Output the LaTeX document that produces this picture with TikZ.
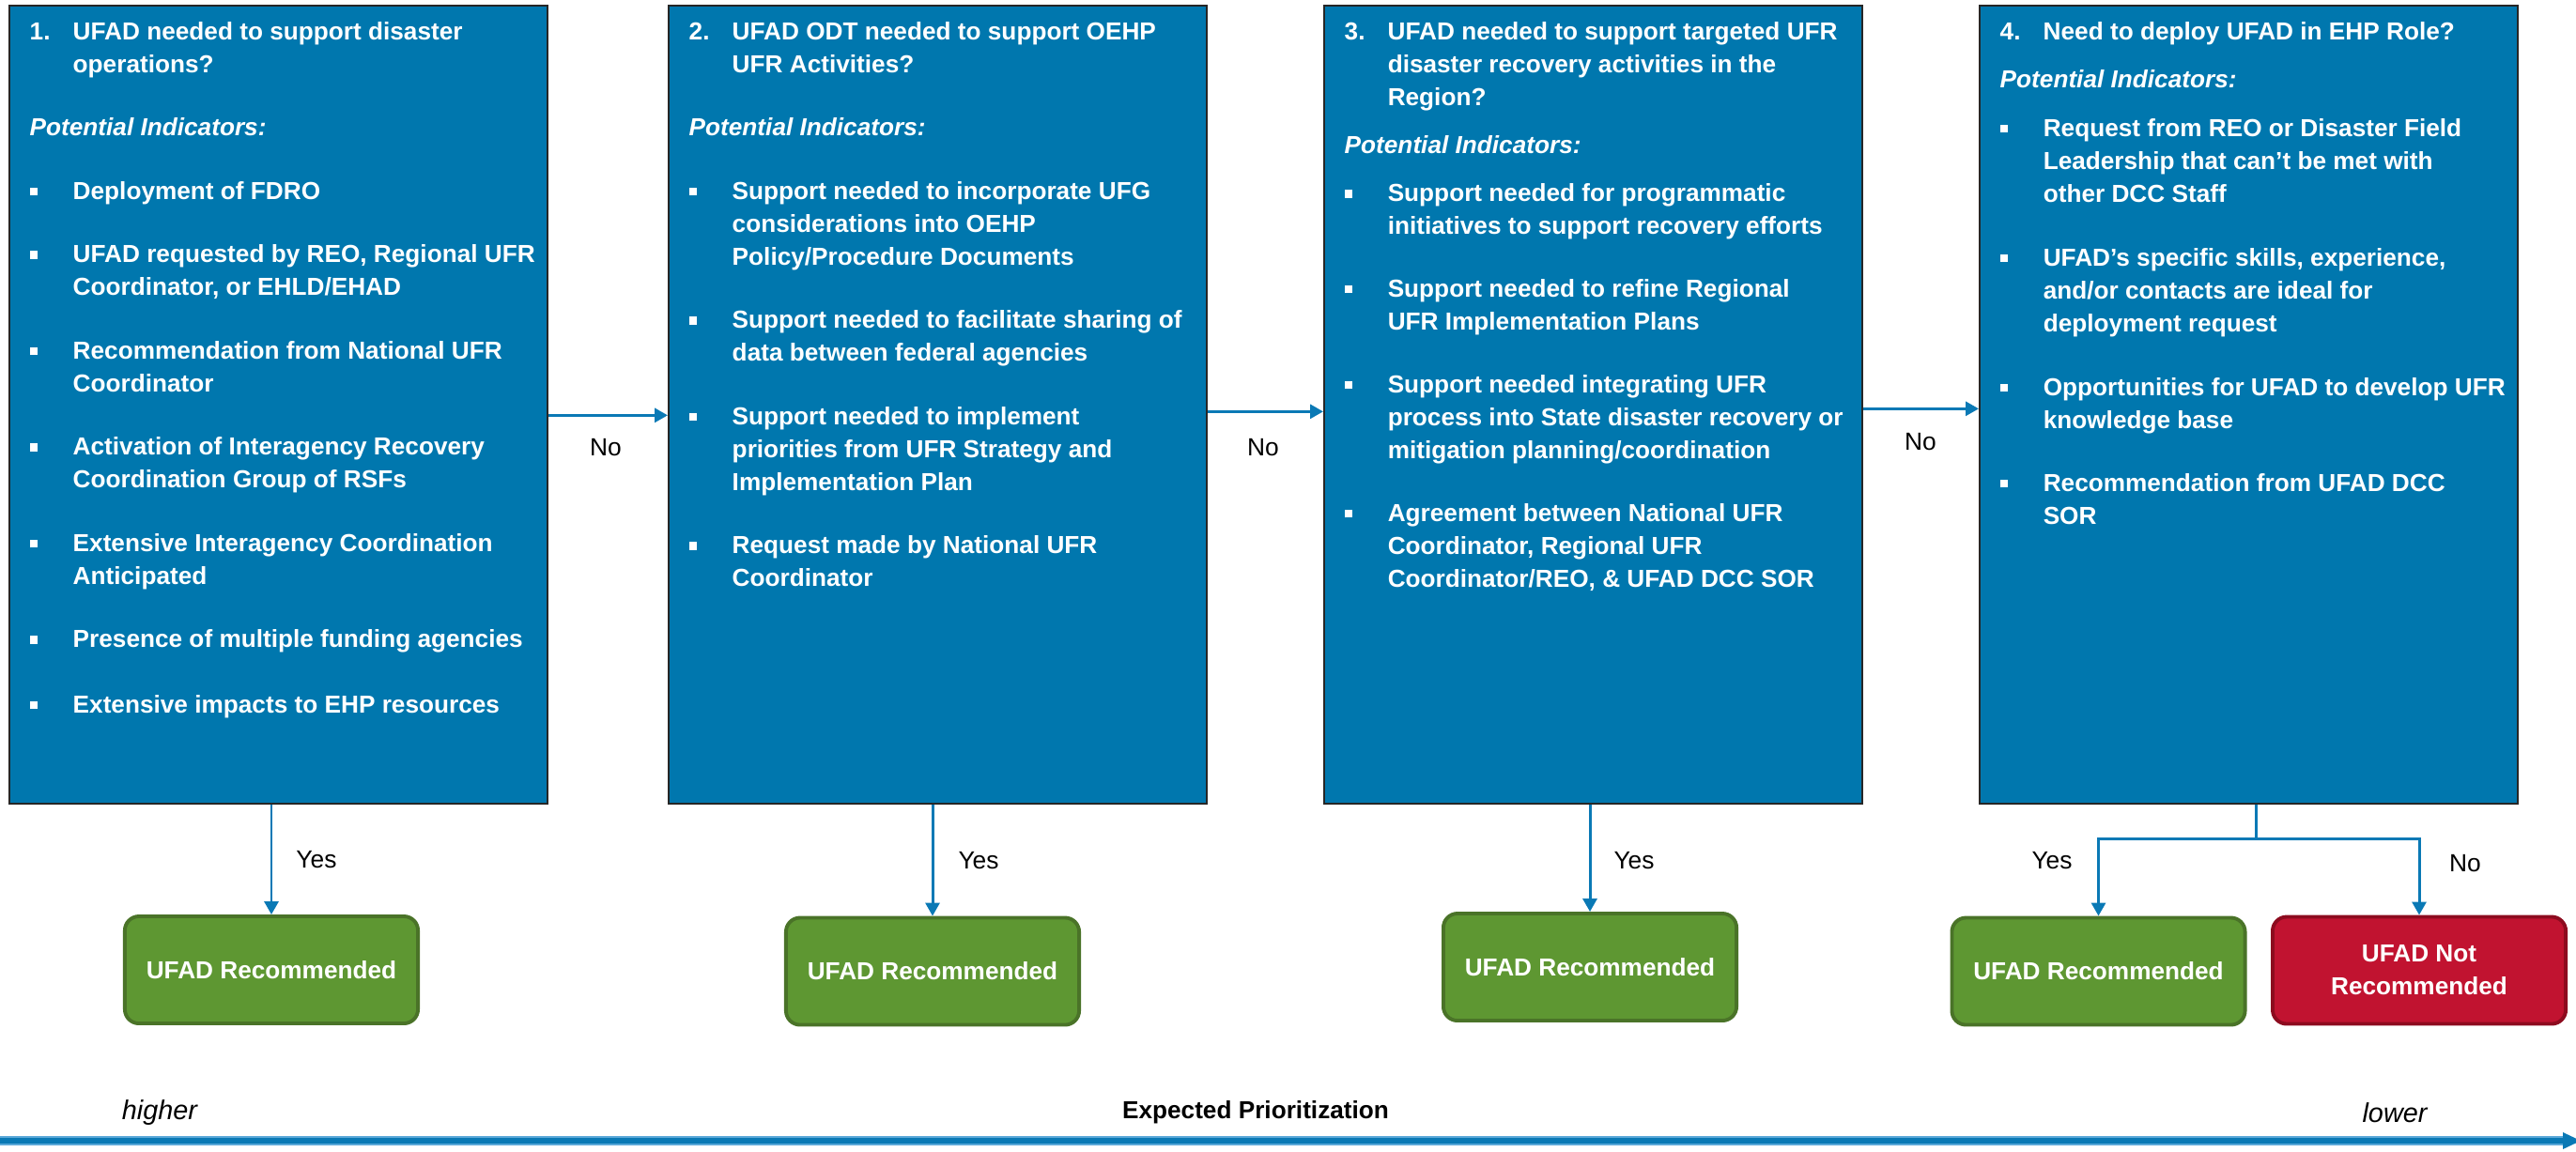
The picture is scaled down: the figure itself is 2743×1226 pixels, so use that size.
\documentclass[tikz,border=0pt]{standalone}
\usepackage{fontspec}
\setmainfont{Liberation Sans}
\usetikzlibrary{arrows.meta,calc}
\definecolor{boxblue}{HTML}{0077AE}
\definecolor{lineblue}{HTML}{0A79B5}
\definecolor{barlight}{HTML}{5AA8D8}
\definecolor{gfill}{HTML}{5E9732}
\definecolor{gdraw}{HTML}{4A7328}
\definecolor{rfill}{HTML}{C11330}
\definecolor{rdraw}{HTML}{8D0B1F}
\newcommand{\nl}{\hfil\break}
\newcommand{\qhead}[2]{\hangindent=0.46cm\hangafter=1\noindent\makebox[0.46cm][l]{#1}#2\par}
\newcommand{\qitem}[1]{\hangindent=0.46cm\hangafter=1\noindent\makebox[0.46cm][l]{\raisebox{0.04cm}{\rule{0.085cm}{0.085cm}}}#1\par}
\newcommand{\qind}{\noindent\textit{Potential Indicators:}\par}
\newcommand{\qtext}[1]{\parbox[t]{5.6cm}{\parskip=0pt\parindent=0pt\parfillskip=0pt plus 1fil #1}}
\tikzset{
  qbox/.style={draw=black!85, line width=0.6pt, fill=boxblue, minimum width=5.73cm, minimum height=8.49cm, anchor=north west, inner sep=0pt},
  qtxt/.style={anchor=base west, inner sep=0pt, text=white, font=\fontsize{7.45pt}{0.35cm}\selectfont\bfseries},
  okbox/.style={draw=gdraw, fill=gfill, line width=1.1pt, rounded corners=0.15cm, minimum width=3.12cm, minimum height=1.14cm, text=white, font=\fontsize{7.45pt}{0.35cm}\selectfont\bfseries, align=center, inner sep=0pt},
  nobox/.style={okbox, draw=rdraw, fill=rfill},
  conn/.style={draw=lineblue, line width=0.85pt, -{Triangle[length=0.14cm,width=0.15cm]}},
  plain/.style={draw=lineblue, line width=0.85pt},
  lbl/.style={font=\fontsize{7.5pt}{9pt}\selectfont, inner sep=0pt},
}
\begin{document}
\begin{tikzpicture}[x=0.01cm, y=-0.01cm]
\useasboundingbox (0,0) rectangle (2743,1226);

% question boxes
\node[qbox] (q1) at (9,5) {};
\node[qbox] (q2) at (711,5) {};
\node[qbox] (q3) at (1409,5) {};
\node[qbox] (q4) at (2107,5) {};

\node[qtxt] (t1) at ($(q1.north west)+(22,37)$) {\qtext{%
\qhead{1.}{UFAD needed to support disaster\nl operations?}
\vspace{0.325cm}
\qind
\vspace{0.325cm}
\qitem{Deployment of FDRO}
\vspace{0.325cm}
\qitem{UFAD requested by REO, Regional UFR\nl Coordinator, or EHLD/EHAD}
\vspace{0.325cm}
\qitem{Recommendation from National UFR\nl Coordinator}
\vspace{0.325cm}
\qitem{Activation of Interagency Recovery\nl Coordination Group of RSFs}
\vspace{0.325cm}
\qitem{Extensive Interagency Coordination\nl Anticipated}
\vspace{0.325cm}
\qitem{Presence of multiple funding agencies}
\vspace{0.345cm}
\qitem{Extensive impacts to EHP resources}}};

\node[qtxt] (t2) at ($(q2.north west)+(22,37)$) {\qtext{%
\qhead{2.}{UFAD ODT needed to support OEHP\nl UFR Activities?}
\vspace{0.325cm}
\qind
\vspace{0.325cm}
\qitem{Support needed to incorporate UFG\nl considerations into OEHP\nl Policy/Procedure Documents}
\vspace{0.325cm}
\qitem{Support needed to facilitate sharing of\nl data between federal agencies}
\vspace{0.325cm}
\qitem{Support needed to implement\nl priorities from UFR Strategy and\nl Implementation Plan}
\vspace{0.325cm}
\qitem{Request made by National UFR\nl Coordinator}}};

\node[qtxt] (t3) at ($(q3.north west)+(22,37)$) {\qtext{%
\qhead{3.}{UFAD needed to support targeted UFR\nl disaster recovery activities in the\nl Region?}
\vspace{0.165cm}
\qind
\vspace{0.16cm}
\qitem{Support needed for programmatic\nl initiatives to support recovery efforts}
\vspace{0.315cm}
\qitem{Support needed to refine Regional\nl UFR Implementation Plans}
\vspace{0.32cm}
\qitem{Support needed integrating UFR\nl process into State disaster recovery or\nl mitigation planning/coordination}
\vspace{0.32cm}
\qitem{Agreement between National UFR\nl Coordinator, Regional UFR\nl Coordinator/REO, \& UFAD DCC SOR}}};

\node[qtxt] (t4) at ($(q4.north west)+(22,37)$) {\qtext{%
\qhead{4.}{Need to deploy UFAD in EHP Role?}
\vspace{0.16cm}
\qind
\vspace{0.17cm}
\qitem{Request from REO or Disaster Field\nl Leadership that can’t be met with\nl other DCC Staff}
\vspace{0.33cm}
\qitem{UFAD’s specific skills, experience,\nl and/or contacts are ideal for\nl deployment request}
\vspace{0.33cm}
\qitem{Opportunities for UFAD to develop UFR\nl knowledge base}
\vspace{0.32cm}
\qitem{Recommendation from UFAD DCC\nl SOR}}};

% outcome boxes
\node[okbox] (g1) at (289,1033) {UFAD Recommended};
\node[okbox] (g2) at (993,1034.5) {UFAD Recommended};
\node[okbox] (g3) at (1693,1030) {UFAD Recommended};
\node[okbox] (g4) at (2234.5,1034.5) {UFAD Recommended};
\node[nobox] (r4) at (2576,1033.5) {UFAD Not\\Recommended};

% "No" connectors between questions
\draw[conn] ([yshift=-0.115cm]q1.east) -- ([yshift=-0.115cm]q2.west);
\draw[conn] ([yshift=-0.075cm]q2.east) -- ([yshift=-0.075cm]q3.west);
\draw[conn] ([yshift=-0.045cm]q3.east) -- ([yshift=-0.045cm]q4.west);
\node[lbl] (n1) at (645,477) {No};
\node[lbl] (n2) at (1345,477) {No};
\node[lbl] (n3) at (2045,471) {No};

% "Yes" connectors
\draw[conn] (q1.south -| g1.north) -- (g1.north);
\draw[conn] (q2.south -| g2.north) -- (g2.north);
\draw[conn] (q3.south -| g3.north) -- (g3.north);
\node[lbl] (y1) at (337,916) {Yes};
\node[lbl] (y2) at (1042,917) {Yes};
\node[lbl] (y3) at (1740,917) {Yes};

% split from question 4
\coordinate (s4) at ([xshift=0.075cm]q4.south);
\coordinate (j4) at ($(s4)+(0,37)$);
\draw[plain] (s4) -- (j4);
\draw[conn] (j4) -| (g4.north);
\draw[conn] (j4) -| (r4.north);
\node[lbl] (y4) at (2185,917) {Yes};
\node[lbl] (n4) at (2625,920) {No};

% prioritization axis
\coordinate (axL) at (0,1215);
\coordinate (axR) at (2731,1215);
\coordinate (axT) at (2748,1215);
\draw[barlight, line width=0.095cm] (axL) -- (axR);
\draw[lineblue, line width=0.06cm] (axL) -- (axR);
\fill[lineblue] ($(axR)+(-2,-9)$) -- (axT) -- ($(axR)+(-2,9)$) -- cycle;
\node[lbl, font=\fontsize{8.2pt}{9pt}\selectfont\itshape] (hi) at (170,1185) {higher};
\node[lbl, font=\fontsize{7.45pt}{9pt}\selectfont\bfseries] (ep) at (1337,1185) {Expected Prioritization};
\node[lbl, font=\fontsize{8.2pt}{9pt}\selectfont\itshape] (lo) at (2550,1185) {lower};
\end{tikzpicture}
\end{document}
